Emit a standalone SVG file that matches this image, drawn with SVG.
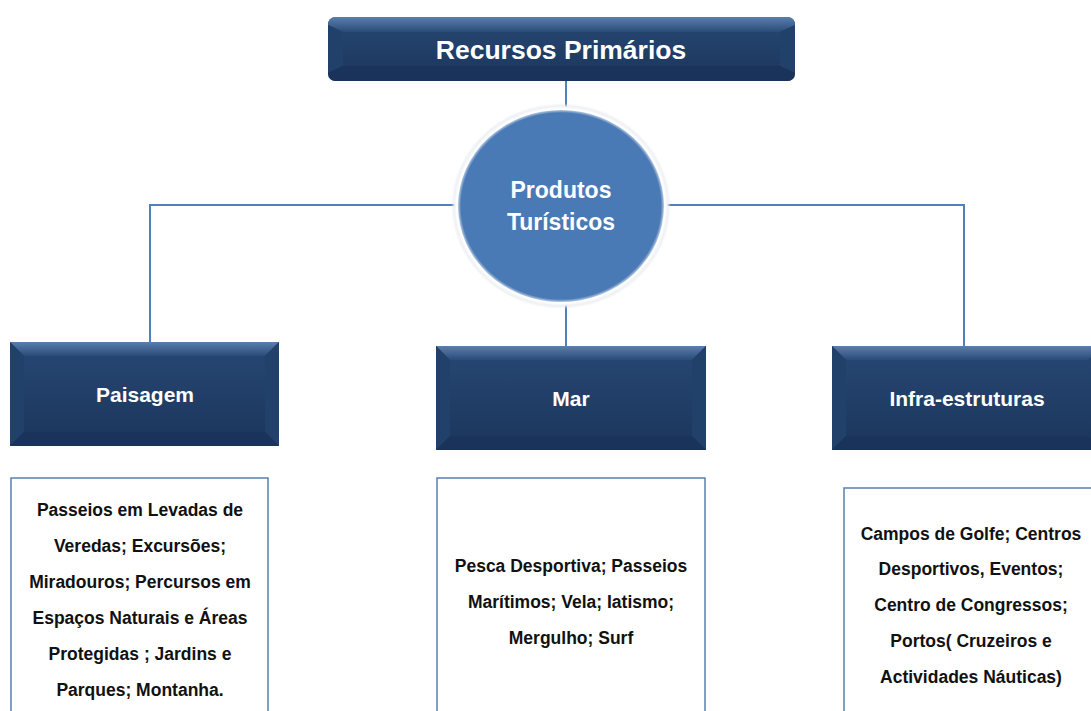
<svg xmlns="http://www.w3.org/2000/svg" width="1091" height="711" viewBox="0 0 1091 711">
  <defs>
    <linearGradient id="topBevel" x1="0" y1="0" x2="0" y2="1">
      <stop offset="0" stop-color="#5a7fae"/>
      <stop offset="1" stop-color="#2a4b78"/>
    </linearGradient>
    <linearGradient id="face" x1="0" y1="0" x2="0" y2="1">
      <stop offset="0" stop-color="#274773"/>
      <stop offset="1" stop-color="#1b365c"/>
    </linearGradient>
    <radialGradient id="disc" cx="0.5" cy="0.5" r="0.5">
      <stop offset="0.85" stop-color="#4a7ab5"/>
      <stop offset="0.97" stop-color="#4a7ab5"/>
      <stop offset="1" stop-color="#4a7ab5" stop-opacity="0.4"/>
    </radialGradient>
    <filter id="soft" x="-10%" y="-10%" width="120%" height="120%">
      <feGaussianBlur stdDeviation="1.2"/>
    </filter>
  </defs>
  <style>
    .link { stroke: #4f81bd; stroke-width: 2; fill: none; }
    .face { fill: url(#face); }
    .bevelTop { fill: url(#topBevel); }
    .bevelSide { fill: #21416b; }
    .bevelBottom { fill: #19335a; }
    .head { font-family: "Liberation Sans", Arial, sans-serif; font-weight: bold; fill: #ffffff; text-anchor: middle; }
    .cat { font-size: 21px; }
    .list { fill: #ffffff; stroke: #5b7fb0; stroke-width: 1.5; }
    .item { font-family: "Liberation Sans", Arial, sans-serif; font-weight: bold; font-size: 17.5px; fill: #111111; text-anchor: middle; }
  </style>

  <rect width="1091" height="711" fill="#ffffff"/>

  <!-- connectors -->
  <g id="connectors">
    <line class="link" x1="566" y1="80" x2="566" y2="112"/>
    <polyline class="link" points="150,342 150,205 457,205"/>
    <polyline class="link" points="667,205 964,205 964,346"/>
    <line class="link" x1="566" y1="303" x2="566" y2="346"/>
  </g>

  <!-- top heading -->
  <g id="recursos">
    <rect x="328" y="17" width="467" height="64" rx="8" class="face"/>
    <path d="M336,17 H787 Q795,17 795,25 L780,32 H343 L328,25 Q328,17 336,17 Z" class="bevelTop"/>
    <path d="M328,25 L343,32 V66 L328,73 Z" class="bevelSide"/>
    <path d="M795,25 L780,32 V66 L795,73 Z" class="bevelSide"/>
    <path d="M328,73 L343,66 H780 L795,73 Q795,81 787,81 H336 Q328,81 328,73 Z" class="bevelBottom"/>
    <text x="561" y="59" class="head" font-size="26.5">Recursos Primários</text>
  </g>

  <!-- central disc -->
  <g id="produtos">
    <ellipse cx="561" cy="206" rx="107" ry="100" fill="#ffffff" stroke="#e6e9ee" stroke-width="2" filter="url(#soft)"/>
    <ellipse cx="561" cy="206" rx="103" ry="96" fill="url(#disc)"/>
    <text x="561" y="198" class="head" font-size="23">Produtos</text>
    <text x="561" y="230" class="head" font-size="23">Turísticos</text>
  </g>

  <!-- category boxes -->
  <g id="paisagem">
    <rect x="10" y="342" width="269" height="104" class="face"/>
    <path d="M10,342 H279 L265,356 H24 Z" class="bevelTop"/>
    <path d="M10,342 L24,356 V432 L10,446 Z" class="bevelSide"/>
    <path d="M279,342 L265,356 V432 L279,446 Z" class="bevelSide"/>
    <path d="M10,446 L24,432 H265 L279,446 Z" class="bevelBottom"/>
    <text x="145" y="402" class="head cat">Paisagem</text>
  </g>

  <g id="mar">
    <rect x="436" y="346" width="270" height="104" class="face"/>
    <path d="M436,346 H706 L692,360 H450 Z" class="bevelTop"/>
    <path d="M436,346 L450,360 V436 L436,450 Z" class="bevelSide"/>
    <path d="M706,346 L692,360 V436 L706,450 Z" class="bevelSide"/>
    <path d="M436,450 L450,436 H692 L706,450 Z" class="bevelBottom"/>
    <text x="571" y="406" class="head cat">Mar</text>
  </g>

  <g id="infra">
    <rect x="832" y="346" width="270" height="104" class="face"/>
    <path d="M832,346 H1102 L1088,360 H846 Z" class="bevelTop"/>
    <path d="M832,346 L846,360 V436 L832,450 Z" class="bevelSide"/>
    <path d="M832,450 L846,436 H1088 L1102,450 Z" class="bevelBottom"/>
    <text x="967" y="406" class="head cat">Infra-estruturas</text>
  </g>

  <!-- detail lists -->
  <g id="lista-paisagem">
    <rect x="11" y="478" width="257" height="245" class="list"/>
    <text class="item" x="140" y="516">Passeios em Levadas de</text>
    <text class="item" x="140" y="552">Veredas; Excursões;</text>
    <text class="item" x="140" y="588">Miradouros; Percursos em</text>
    <text class="item" x="140" y="624">Espaços Naturais e Áreas</text>
    <text class="item" x="140" y="660">Protegidas ; Jardins e</text>
    <text class="item" x="140" y="696">Parques; Montanha.</text>
  </g>

  <g id="lista-mar">
    <rect x="437" y="478" width="268" height="245" class="list"/>
    <text class="item" x="571" y="572">Pesca Desportiva; Passeios</text>
    <text class="item" x="571" y="608">Marítimos; Vela; Iatismo;</text>
    <text class="item" x="571" y="644">Mergulho; Surf</text>
  </g>

  <g id="lista-infra">
    <rect x="844" y="488" width="260" height="235" class="list"/>
    <text class="item" x="971" y="540">Campos de Golfe; Centros</text>
    <text class="item" x="971" y="575">Desportivos, Eventos;</text>
    <text class="item" x="971" y="611">Centro de Congressos;</text>
    <text class="item" x="971" y="647">Portos( Cruzeiros e</text>
    <text class="item" x="971" y="683">Actividades Náuticas)</text>
  </g>
</svg>
